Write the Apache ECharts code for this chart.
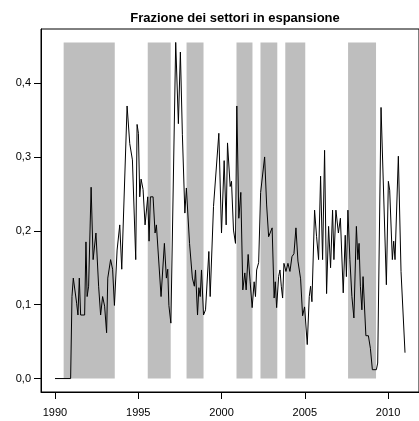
<!DOCTYPE html>
<html>
<head>
<meta charset="utf-8">
<script src="https://cdn.jsdelivr.net/npm/echarts@6/dist/echarts.min.js"></script>
<style>
  html, body { margin: 0; padding: 0; background: #fff; }
  #chart { width: 419px; height: 421px; }
</style>
</head>
<body>
<div id="chart"></div>
<script>
// valori (anno decimale, frazione)
const years = [
  1990.00, 1990.94, 1991.02, 1991.10, 1991.30, 1991.38, 1991.46, 1991.54, 1991.78, 1991.86,
  1991.93, 1992.02, 1992.17, 1992.29, 1992.46, 1992.53, 1992.62, 1992.74, 1992.86, 1992.98,
  1993.10, 1993.17, 1993.25, 1993.34, 1993.46, 1993.57, 1993.73, 1993.89, 1994.01, 1994.09,
  1994.33, 1994.49, 1994.65, 1994.85, 1994.93, 1995.01, 1995.09, 1995.17, 1995.29, 1995.41,
  1995.57, 1995.65, 1995.73, 1995.89, 1996.01, 1996.09, 1996.37, 1996.45, 1996.57, 1996.69,
  1996.77, 1996.84, 1996.96, 1997.25, 1997.41, 1997.53, 1997.65, 1997.80, 1997.89, 1998.08,
  1998.25, 1998.37, 1998.44, 1998.56, 1998.64, 1998.72, 1998.80, 1998.92, 1999.04, 1999.24,
  1999.32, 1999.52, 1999.60, 1999.84, 2000.00, 2000.16, 2000.28, 2000.36, 2000.52, 2000.60,
  2000.72, 2000.84, 2000.92, 2001.04, 2001.16, 2001.28, 2001.40, 2001.48, 2001.60, 2001.72,
  2001.84, 2001.96, 2002.04, 2002.11, 2002.23, 2002.35, 2002.47, 2002.59, 2002.71, 2002.83,
  2002.95, 2003.04, 2003.16, 2003.23, 2003.31, 2003.43, 2003.51, 2003.59, 2003.67, 2003.75,
  2003.87, 2003.99, 2004.11, 2004.23, 2004.35, 2004.47, 2004.59, 2004.75, 2004.87, 2004.99,
  2005.15, 2005.27, 2005.35, 2005.43, 2005.59, 2005.71, 2005.83, 2005.95, 2006.07, 2006.19,
  2006.31, 2006.43, 2006.55, 2006.67, 2006.75, 2006.87, 2007.02, 2007.14, 2007.31, 2007.43,
  2007.50, 2007.59, 2007.71, 2007.83, 2007.95, 2008.10, 2008.19, 2008.26, 2008.34, 2008.43,
  2008.50, 2008.67, 2008.82, 2008.94, 2009.06, 2009.30, 2009.38, 2009.58, 2009.66, 2009.90,
  2010.02, 2010.10, 2010.26, 2010.34, 2010.42, 2010.62, 2010.78, 2010.86, 2011.02
];
const frazione = [
  0.000, 0.000, 0.111, 0.136, 0.102, 0.086, 0.136, 0.086, 0.086, 0.185,
  0.111, 0.125, 0.259, 0.161, 0.197, 0.197, 0.125, 0.086, 0.111, 0.098,
  0.062, 0.136, 0.136, 0.161, 0.148, 0.099, 0.174, 0.208, 0.148, 0.148,
  0.369, 0.318, 0.296, 0.161, 0.344, 0.332, 0.246, 0.270, 0.256, 0.208,
  0.246, 0.186, 0.246, 0.246, 0.197, 0.208, 0.111, 0.111, 0.183, 0.136,
  0.148, 0.099, 0.075, 0.455, 0.345, 0.442, 0.330, 0.224, 0.258, 0.183,
  0.136, 0.125, 0.147, 0.086, 0.123, 0.111, 0.147, 0.086, 0.093, 0.172,
  0.111, 0.233, 0.235, 0.332, 0.197, 0.295, 0.208, 0.319, 0.260, 0.267,
  0.201, 0.183, 0.369, 0.217, 0.252, 0.120, 0.143, 0.120, 0.168, 0.131,
  0.096, 0.131, 0.111, 0.147, 0.157, 0.252, 0.254, 0.300, 0.235, 0.192,
  0.192, 0.204, 0.109, 0.131, 0.096, 0.138, 0.147, 0.125, 0.109, 0.156,
  0.145, 0.156, 0.145, 0.165, 0.169, 0.204, 0.159, 0.135, 0.085, 0.097,
  0.046, 0.111, 0.125, 0.104, 0.228, 0.192, 0.161, 0.274, 0.161, 0.309,
  0.115, 0.206, 0.150, 0.228, 0.161, 0.228, 0.197, 0.217, 0.116, 0.194,
  0.138, 0.228, 0.161, 0.111, 0.082, 0.206, 0.161, 0.183, 0.125, 0.093,
  0.138, 0.058, 0.058, 0.041, 0.012, 0.012, 0.021, 0.367, 0.367, 0.127,
  0.267, 0.255, 0.161, 0.186, 0.161, 0.301, 0.145, 0.145, 0.035
];

// periodi di recessione (bande grigie)
const bandStart = [1990.52, 1995.57, 1997.90, 2000.90, 2002.34, 2003.83, 2007.60];
const bandEnd   = [1993.59, 1996.95, 1998.92, 2001.86, 2003.35, 2005.03, 2009.28];
const bandTop = 0.455;

const xTicks = [1990, 1995, 2000, 2005, 2010];
const yTicks = [0, 0.1, 0.2, 0.3, 0.4];

const font = 'Liberation Sans, Arial, Helvetica, sans-serif';
const chart = echarts.init(document.getElementById('chart'));

chart.setOption({
  animation: false,
  title: {
    text: 'Frazione dei settori in espansione',
    left: 230,
    top: 7,
    textAlign: 'center',
    textStyle: { fontFamily: font, fontSize: 13, fontWeight: 'bold', color: '#000' }
  },
  grid: {
    left: 41, right: 0, top: 29, bottom: 29,
    show: true, borderColor: '#000', borderWidth: 1, backgroundColor: 'transparent'
  },
  xAxis: {
    type: 'value',
    min: 1989.16,
    max: 2011.86,
    axisLine: { show: true, onZero: false, lineStyle: { color: '#000', width: 1 } },
    axisTick: { show: true, length: 7, customValues: xTicks, lineStyle: { color: '#000' } },
    axisLabel: {
      customValues: xTicks, margin: 15,
      fontFamily: font, fontSize: 11, color: '#000',
      formatter: v => String(v)
    },
    splitLine: { show: false }
  },
  yAxis: {
    type: 'value',
    min: -0.0182,
    max: 0.4732,
    axisLine: { show: true, onZero: false, lineStyle: { color: '#000', width: 1 } },
    axisTick: { show: true, length: 7, customValues: yTicks, lineStyle: { color: '#000' } },
    axisLabel: {
      customValues: yTicks, margin: 10,
      fontFamily: font, fontSize: 11, color: '#000',
      formatter: v => v.toFixed(1).replace('.', ',')
    },
    splitLine: { show: false }
  },
  series: [
    {
      name: 'recessioni',
      type: 'line',
      data: [],
      z: 1,
      markArea: {
        silent: true,
        itemStyle: { color: '#bebebe' },
        data: bandStart.map((s, i) => [
          { xAxis: s, yAxis: 0 },
          { xAxis: bandEnd[i], yAxis: bandTop }
        ])
      }
    },
    {
      name: 'frazione',
      type: 'line',
      z: 3,
      symbol: 'none',
      lineStyle: { color: '#000', width: 1 },
      data: years.map((y, i) => [y, frazione[i]])
    }
  ]
});
</script>
</body>
</html>
